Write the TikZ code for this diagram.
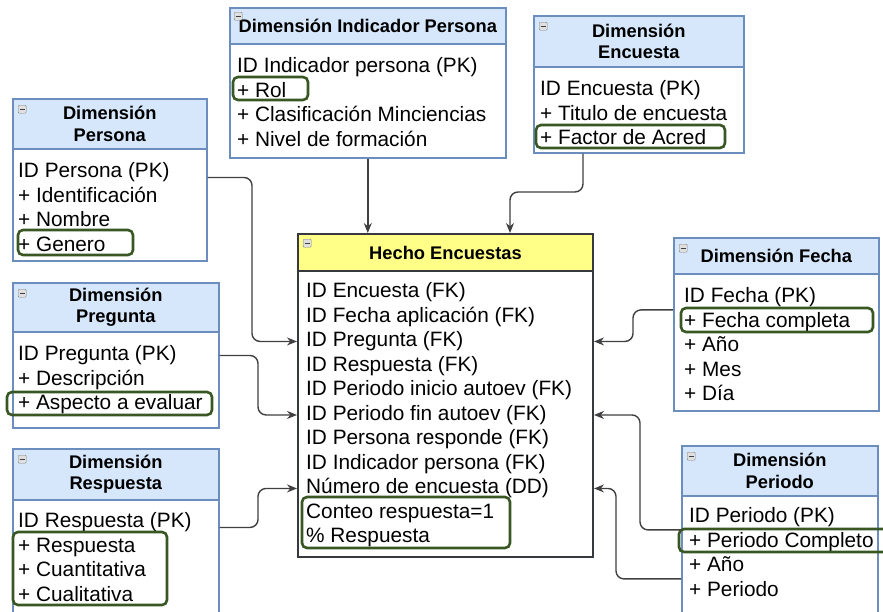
\documentclass[tikz,border=0pt]{standalone}
\usepackage{fontspec}
\setmainfont{Liberation Sans}
\usetikzlibrary{positioning}
\usetikzlibrary{calc}
\usetikzlibrary{arrows.meta}
\definecolor{hdrblue}{HTML}{D6E7FC}
\definecolor{bordblue}{HTML}{6C8EBF}
\definecolor{factyellow}{HTML}{FFFF88}
\definecolor{factgray}{HTML}{36393D}
\definecolor{keygreen}{RGB}{56,87,35}
\tikzset{dimhead/.style={draw=bordblue,fill=hdrblue,line width=1.6pt,anchor=north west,align=center,inner sep=0pt,font=\fontsize{18.3}{21.5}\selectfont\bfseries},
dimbody/.style={draw=bordblue,fill=white,line width=1.6pt,anchor=north west,inner sep=0pt},
facthead/.style={dimhead,draw=factgray,fill=factyellow,line width=2pt},
factbody/.style={dimbody,draw=factgray,line width=2pt},
row/.style={anchor=north west,inner xsep=0pt,inner ysep=2.5pt,text height=15pt,text depth=4.5pt,font=\fontsize{20.8}{24.5}\selectfont},
keybox/.style={draw=keygreen,line width=2.6pt,rounded corners=5pt},
toggle/.style={draw=gray,fill=gray!25,rounded corners=1pt,minimum width=8pt,minimum height=8pt,inner sep=0pt,anchor=north west,path picture={\draw[gray!50!black,line width=1pt] ([xshift=1.5pt]path picture bounding box.west) -- ([xshift=-1.5pt]path picture bounding box.east);}},
link/.style={draw=black!75,line width=1.4pt,rounded corners=8pt,-{Stealth[length=10pt,width=8pt]}}}
\begin{document}
\begin{tikzpicture}[x=1pt,y=-1pt]
\path[use as bounding box,fill=white] (0,0) rectangle (883,611);
% hecho
\node[factbody,minimum width=295pt,minimum height=286pt] (hecB) at (297,270) {};
\node[facthead,minimum width=295pt,minimum height=37pt] (hecH) at (297,233) {Hecho Encuestas};
\node[toggle] (hecT) at ([xshift=6pt,yshift=-6pt]hecH.north west) {};
\foreach \t [count=\i] in {ID Encuesta (FK),ID Fecha aplicación (FK),ID Pregunta (FK),ID Respuesta (FK),ID Periodo inicio autoev (FK),ID Periodo fin autoev (FK),ID Persona responde (FK),ID Indicador persona (FK),Número de encuesta (DD),Conteo respuesta=1,\% Respuesta}
  \node[row] (hec-\i) at ([xshift=9pt,yshift={-10pt-24.5pt*(\i-1)}]hecB.north west) {\t};
\draw[keybox] (302,497) rectangle (510,548);
% persona
\node[dimbody,minimum width=194pt,minimum height=112pt] (perB) at (12,148) {};
\node[dimhead,minimum width=194pt,minimum height=50pt] (perH) at (12,98) {Dimensión\\Persona};
\node[toggle] (perT) at ([xshift=6pt,yshift=-7pt]perH.north west) {};
\foreach \t [count=\i] in {ID Persona (PK),+ Identificación,+ Nombre,+ Genero}
  \node[row] (per-\i) at ([xshift=6pt,yshift={-12pt-24.5pt*(\i-1)}]perB.north west) {\t};
\draw[keybox] (18,230) rectangle (133,255);
% pregunta
\node[dimbody,minimum width=206pt,minimum height=96pt] (preB) at (12,331) {};
\node[dimhead,minimum width=206pt,minimum height=49pt] (preH) at (12,282) {Dimensión\\Pregunta};
\node[toggle] (preT) at ([xshift=6pt,yshift=-7pt]preH.north west) {};
\foreach \t [count=\i] in {ID Pregunta (PK),+ Descripción,+ Aspecto a evaluar}
  \node[row] (pre-\i) at ([xshift=6pt,yshift={-12pt-24.5pt*(\i-1)}]preB.north west) {\t};
\draw[keybox] (7,392) rectangle (212,415);
% respuesta
\node[dimbody,minimum width=206pt,minimum height=140pt] (resB) at (12,499) {};
\node[dimhead,minimum width=206pt,minimum height=51pt] (resH) at (12,448) {Dimensión\\Respuesta};
\node[toggle] (resT) at ([xshift=6pt,yshift=-7pt]resH.north west) {};
\foreach \t [count=\i] in {ID Respuesta (PK),+ Respuesta,+ Cuantitativa,+ Cualitativa}
  \node[row] (res-\i) at ([xshift=6pt,yshift={-11pt-24.5pt*(\i-1)}]resB.north west) {\t};
\draw[keybox] (13,532) rectangle (167,605);
% indicador persona
\node[dimbody,minimum width=276pt,minimum height=114pt] (indB) at (229,43) {};
\node[dimhead,minimum width=276pt,minimum height=36pt] (indH) at (229,7) {Dimensión Indicador Persona};
\node[toggle] (indT) at ([xshift=5pt,yshift=-5pt]indH.north west) {};
\foreach \t [count=\i] in {ID Indicador persona (PK),+ Rol,+ Clasificación Minciencias,+ Nivel de formación}
  \node[row] (ind-\i) at ([xshift=8pt,yshift={-12pt-24.5pt*(\i-1)}]indB.north west) {\t};
\draw[keybox] (233,77) rectangle (308,100);
% encuesta
\node[dimbody,minimum width=210pt,minimum height=86pt] (encB) at (533,66) {};
\node[dimhead,minimum width=210pt,minimum height=51pt] (encH) at (533,15) {Dimensión\\Encuesta};
\node[toggle] (encT) at ([xshift=6pt,yshift=-7pt]encH.north west) {};
\foreach \t [count=\i] in {ID Encuesta (PK),+ Titulo de encuesta,+ Factor de Acred}
  \node[row] (enc-\i) at ([xshift=7pt,yshift={-12pt-24.5pt*(\i-1)}]encB.north west) {\t};
\draw[keybox] (536,125) rectangle (725,148);
% fecha
\node[dimbody,minimum width=205pt,minimum height=137pt] (fecB) at (673,273) {};
\node[dimhead,minimum width=205pt,minimum height=36pt] (fecH) at (673,237) {Dimensión Fecha};
\node[toggle] (fecT) at ([xshift=6pt,yshift=-7pt]fecH.north west) {};
\foreach \t [count=\i] in {ID Fecha (PK),+ Fecha completa,+ Año,+ Mes,+ Día}
  \node[row] (fec-\i) at ([xshift=11pt,yshift={-12pt-24.5pt*(\i-1)}]fecB.north west) {\t};
\draw[keybox] (681,308) rectangle (873,332);
% periodo
\node[dimbody,minimum width=196pt,minimum height=155pt] (perdB) at (681,495) {};
\node[dimhead,minimum width=196pt,minimum height=50pt] (perdH) at (681,445) {Dimensión\\Periodo};
\node[toggle] (perdT) at ([xshift=6pt,yshift=-7pt]perdH.north west) {};
\foreach \t [count=\i] in {ID Periodo (PK),+ Periodo Completo,+ Año,+ Periodo}
  \node[row] (perd-\i) at ([xshift=8pt,yshift={-10pt-24.5pt*(\i-1)}]perdB.north west) {\t};
\draw[keybox] (679,529) rectangle (895,552);
% links
\coordinate (perX) at (252,0);
\coordinate (preX) at (258,0);
\coordinate (encX) at (583,0);
\coordinate (encY) at (510,192);
\coordinate (fecX) at (633,0);
\coordinate (perdX) at (640,0);
\coordinate (perdZ) at (616,0);
\draw[link] (indB.south) -- (indB.south |- hecH.north);
\draw[link] (encX |- encB.south) |- (encY) -- (encY |- hecH.north);
\draw[link] ([yshift=-5pt]per-1.east -| perB.east) -| (perX |- hec-3) -- (hec-3 -| hecB.west);
\draw[link] (pre-1 -| preB.east) -| (preX |- hec-6) -- (hec-6 -| hecB.west);
\draw[link] ([yshift=-5pt]res-1.east -| resB.east) -| (preX |- hec-9) -- (hec-9 -| hecB.west);
\draw[link] (fec-1.south -| fecB.west) -| (fecX |- hec-3) -- (hec-3 -| hecB.east);
\draw[link] (perd-1.south -| perdB.west) -| (perdX |- hec-6) -- (hec-6 -| hecB.east);
\draw[link] (perd-3.south -| perdB.west) -| (perdZ |- hec-9) -- (hec-9 -| hecB.east);
\end{tikzpicture}
\end{document}
